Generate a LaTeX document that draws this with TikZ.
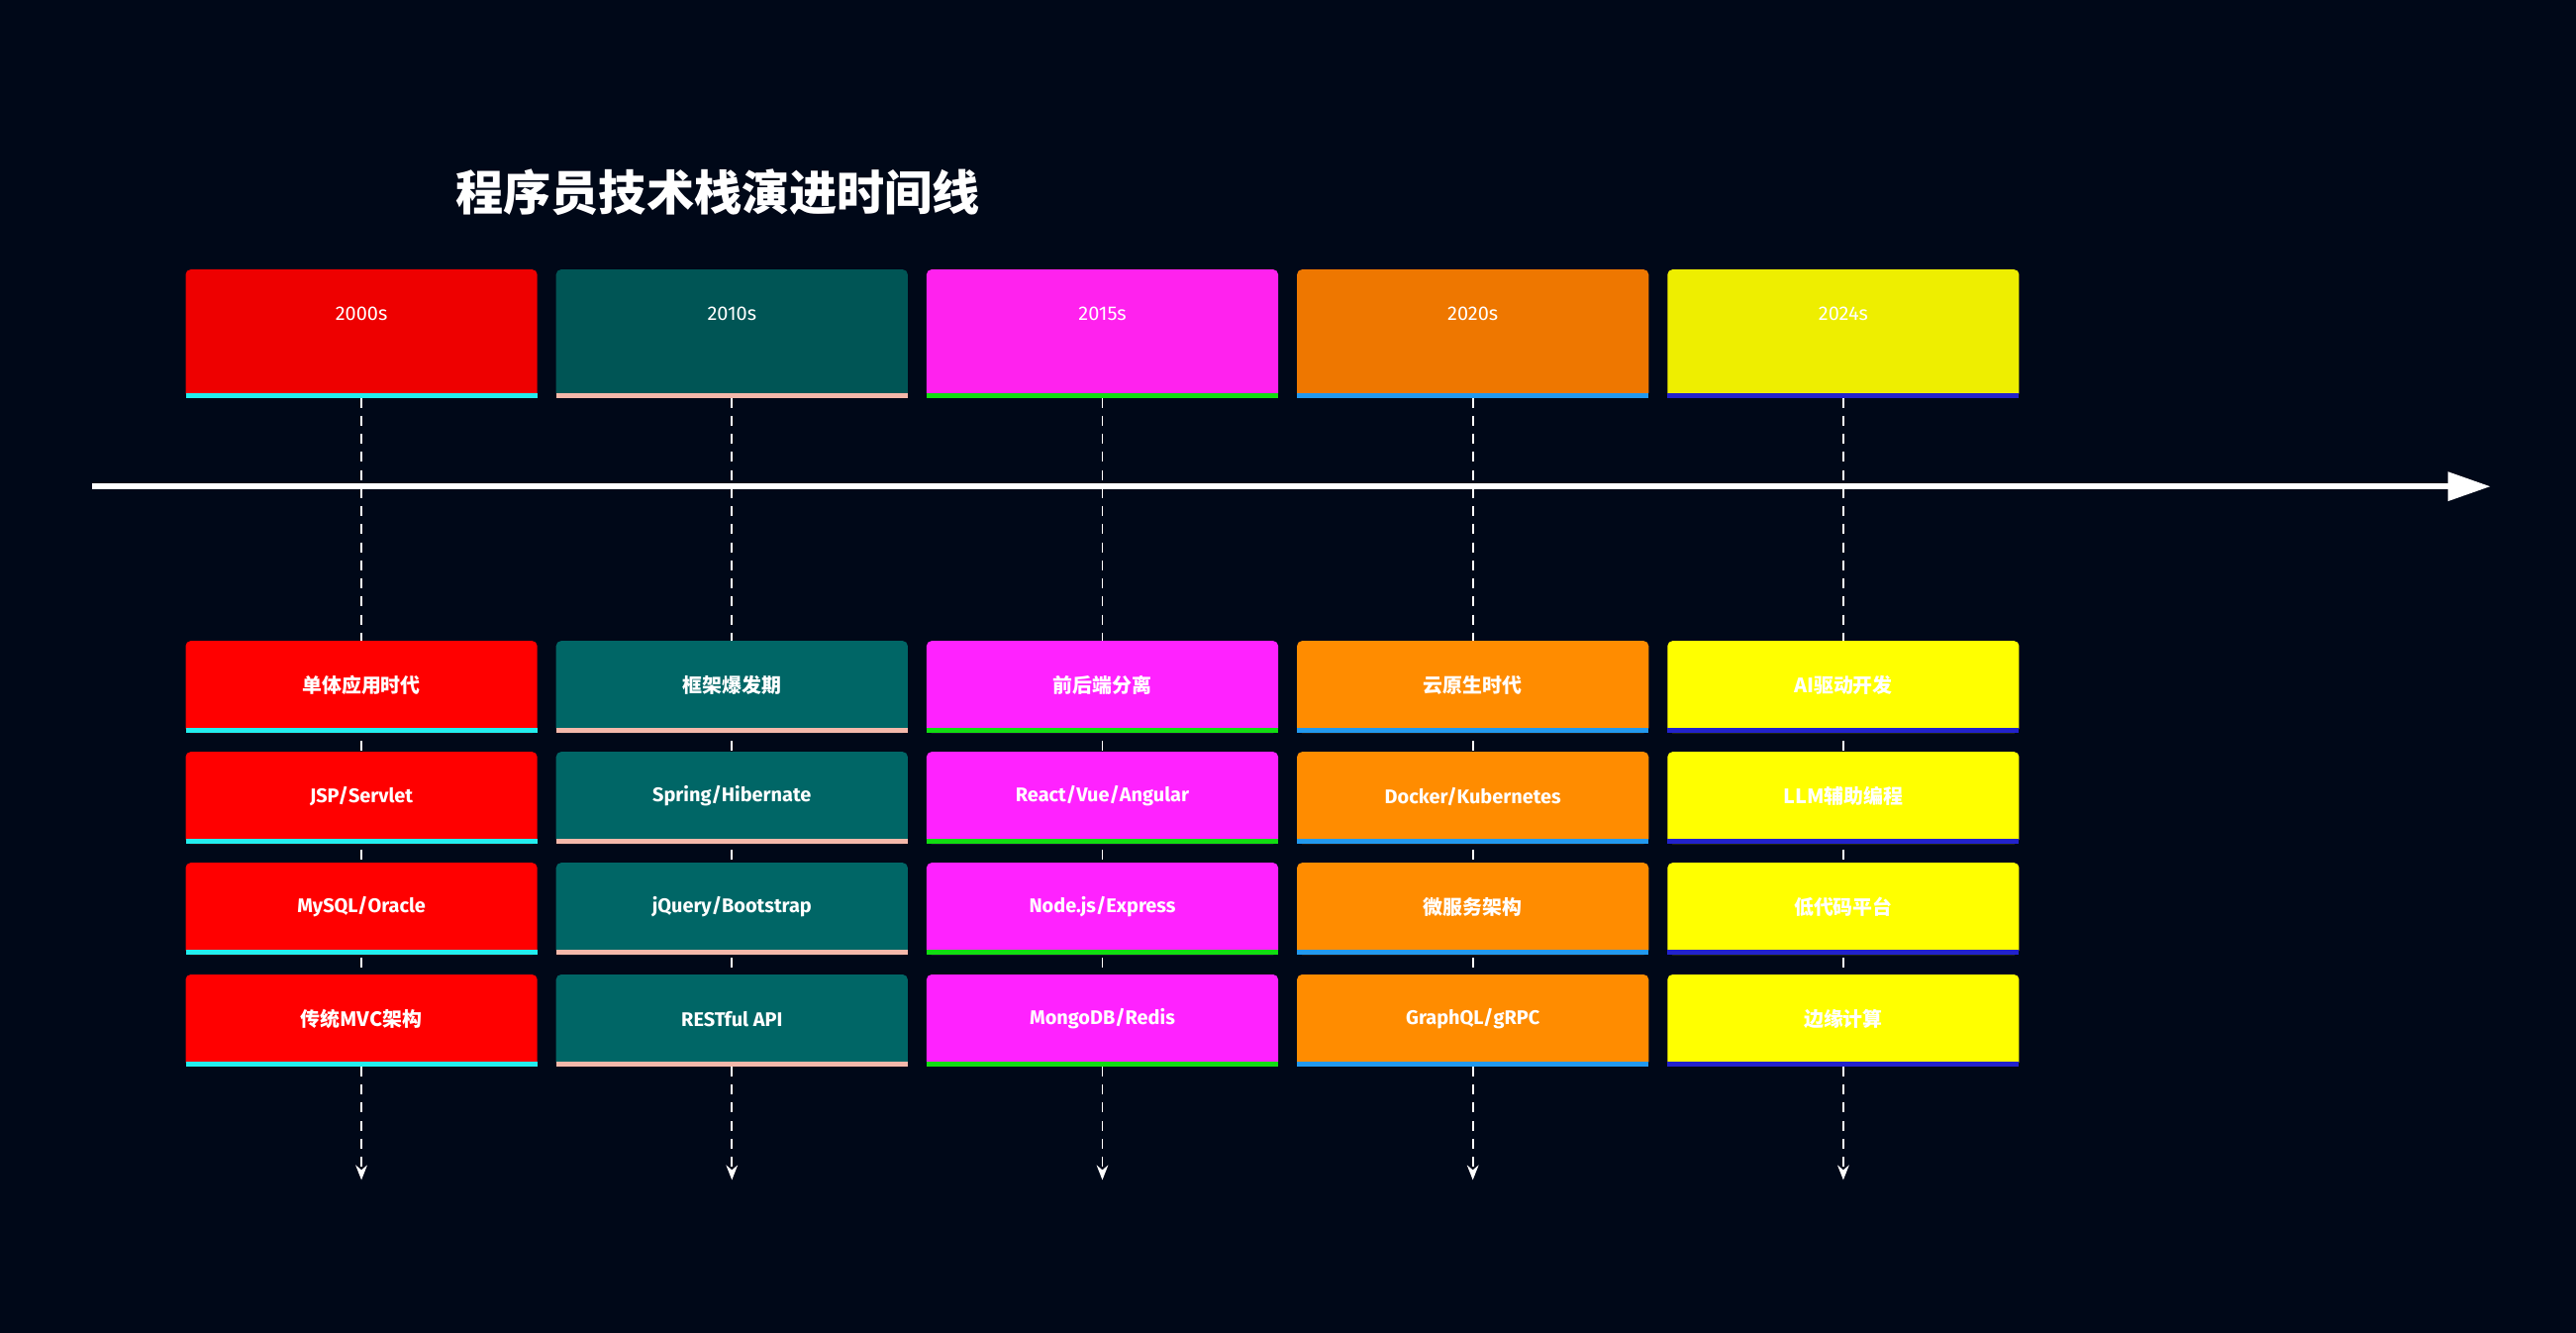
\documentclass[tikz,border=0pt]{standalone}
\usepackage{fontspec}
\setmainfont{Fira Sans}
\newfontfamily\cjk{Noto Sans CJK SC}
\usetikzlibrary{arrows.meta}
\definecolor{bg}{HTML}{000818}
\begin{document}
\begin{tikzpicture}[x=1pt,y=-1pt,
  hdr/.style={rounded corners=3pt,minimum width=214pt,minimum height=78pt,inner sep=0},
  itm/.style={rounded corners=3pt,minimum width=214pt,minimum height=56pt,inner sep=0},
  txt/.style={text=white,font=\fontsize{12}{14}\selectfont},
  btxt/.style={text=white,font=\bfseries\fontsize{12}{14}\selectfont},
  dsh/.style={white,densely dashed,line width=1.2pt,dash pattern=on 6pt off 5pt,-{Stealth[length=9pt,width=7pt]}}]
\fill[bg] (0,0) rectangle (1568,811);
\useasboundingbox (0,0) rectangle (1568,811);
\node[anchor=west,text=white,font=\cjk\bfseries\fontsize{29}{34}\selectfont] (title) at (274,117) {程序员技术栈演进时间线};
\coordinate (ta) at (56,296); \coordinate (tb) at (1516,296);
\draw[white,line width=3.5pt,-{Triangle[length=26pt,width=17pt]}] (ta) -- (tb);
\foreach \i/\yr/\hc/\ic/\sc/\a/\b/\c/\d in {
 0/2000s/EE0000/FF0000/22EEEE/\cjk 单体应用时代/JSP\slash Servlet/MySQL\slash Oracle/\cjk 传统MVC架构,
 1/2010s/005555/006666/F4B8AA/\cjk 框架爆发期/Spring\slash Hibernate/jQuery\slash Bootstrap/RESTful API,
 2/2015s/FF22EE/FF22FF/11DD11/\cjk 前后端分离/React\slash Vue\slash Angular/Node.js\slash Express/MongoDB\slash Redis,
 3/2020s/EE7700/FF8C00/2299EE/\cjk 云原生时代/Docker\slash Kubernetes/\cjk 微服务架构/GraphQL\slash gRPC,
 4/2024s/EEEE00/FFFF00/2222CC/\cjk AI驱动开发/\cjk LLM辅助编程/\cjk 低代码平台/\cjk 边缘计算}{
  \pgfmathsetmacro\cx{220+225.5*\i}
  \definecolor{hc}{HTML}{\hc}\definecolor{ic}{HTML}{\ic}\definecolor{sc}{HTML}{\sc}
  \coordinate (top\i) at (\cx,242); \coordinate (end\i) at (\cx,718);
  \draw[dsh] (top\i) -- (end\i);
  \node[hdr,fill=hc] (h\i) at (\cx,203) {};
  \fill[sc] (\cx-107,239) rectangle (\cx+107,242);
  \node[txt] at (\cx,191) {\yr};
  \foreach \t/\y [count=\k] in {\a/418,\b/485.5,\c/553,\d/621}{
    \node[itm,fill=ic] (i\i\k) at (\cx,\y) {};
    \fill[sc] (\cx-107,\y+25) rectangle (\cx+107,\y+28);
    \node[btxt] at (\cx,\y-1) {\t};
  }
}
\end{tikzpicture}
\end{document}
